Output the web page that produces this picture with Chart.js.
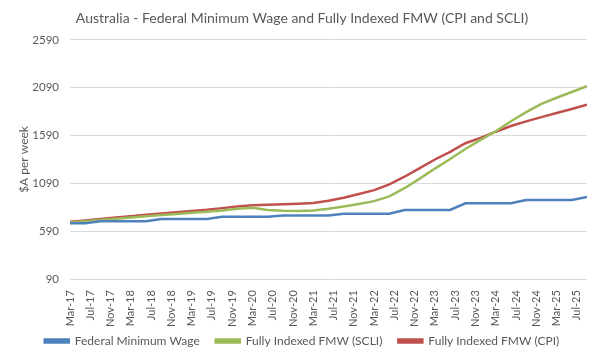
<!DOCTYPE html>
<html>
<head>
<meta charset="utf-8">
<script src="https://cdn.jsdelivr.net/npm/chart.js@4"></script>
<style>
  body { margin: 0; background: #fff; }
  #myChart { display: block; }
</style>
</head>
<body>
<canvas id="myChart" width="600" height="361"></canvas>
<script>
// quarterly observations, Mar-17 .. Sep-25
const quarters = ['Mar-17','Jun-17','Sep-17','Dec-17','Mar-18','Jun-18','Sep-18','Dec-18',
  'Mar-19','Jun-19','Sep-19','Dec-19','Mar-20','Jun-20','Sep-20','Dec-20',
  'Mar-21','Jun-21','Sep-21','Dec-21','Mar-22','Jun-22','Sep-22','Dec-22',
  'Mar-23','Jun-23','Sep-23','Dec-23','Mar-24','Jun-24','Sep-24','Dec-24',
  'Mar-25','Jun-25','Sep-25'];

const fmw = [672.7, 672.7, 694.9, 694.9, 694.9, 694.9, 719.2, 719.2,
  719.2, 719.2, 740.8, 740.8, 740.8, 740.8, 753.8, 753.8,
  753.8, 753.8, 772.6, 772.6, 772.6, 772.6, 812.6, 812.6,
  812.6, 812.6, 882.8, 882.8, 882.8, 882.8, 915.9, 915.9,
  915.9, 915.9, 948.0];

const fmwSCLI = [682, 695, 707, 720, 733, 746, 759, 771,
  783, 795, 808, 825, 835, 812, 805, 803,
  806, 825, 850, 875, 905, 955, 1040, 1140,
  1245, 1345, 1450, 1545, 1635, 1740, 1835, 1920,
  1985, 2045, 2105];

const fmwCPI = [690, 704, 718, 733, 748, 762, 776, 790,
  803, 815, 832, 848, 862, 866, 872, 877,
  885, 910, 940, 980, 1020, 1080, 1160, 1250,
  1340, 1420, 1510, 1565, 1630, 1690, 1738, 1782,
  1825, 1868, 1913];

// axis ticks
const tickLabels = ['Mar-17','Jul-17','Nov-17','Mar-18','Jul-18','Nov-18','Mar-19','Jul-19',
  'Nov-19','Mar-20','Jul-20','Nov-20','Mar-21','Jul-21','Nov-21','Mar-22','Jul-22',
  'Nov-22','Mar-23','Jul-23','Nov-23','Mar-24','Jul-24','Nov-24','Mar-25','Jul-25'];
const yTicks = [90, 590, 1090, 1590, 2090, 2590];

const FONT = 'Lato, "Liberation Sans", sans-serif';
const GREY = '#595959';
const LEGEND_PAD = 16;   // horizontal gap between legend items
const LEGEND_TOP = 5;    // space actually wanted above the legend row

// x is months since Mar-17, one quarter = 3 months
function toPoints(values) {
  return values.map((v, i) => ({ x: i * 3, y: v }));
}

function makeSet(label, values, color) {
  return {
    label: label,
    data: toPoints(values),
    borderColor: color,
    backgroundColor: color,
    borderWidth: 2.5,
    pointRadius: 0,
    tension: 0
  };
}

// legend padding is used both between items and above them;
// keep the wide horizontal gap but drop most of the top space
const tightLegend = {
  id: 'tightLegend',
  beforeLayout(chart) {
    const legend = chart.legend;
    if (!legend || legend._tight) return;
    legend._tight = true;
    const shift = LEGEND_PAD - LEGEND_TOP;
    const fit = legend.fit;
    const draw = legend.draw;
    legend.fit = function () {
      fit.call(this);
      this.height -= shift;
    };
    legend.draw = function () {
      this.top -= shift;
      draw.apply(this, arguments);
      this.top += shift;
    };
  }
};

const ctx = document.getElementById('myChart').getContext('2d');
new Chart(ctx, {
  type: 'line',
  data: {
    datasets: [
      makeSet('Federal Minimum Wage', fmw, '#4F81BD'),
      makeSet('Fully Indexed FMW (SCLI)', fmwSCLI, '#9BBB59'),
      makeSet('Fully Indexed FMW (CPI)', fmwCPI, '#C0504D')
    ]
  },
  plugins: [tightLegend],
  options: {
    responsive: false,
    animation: false,
    layout: { padding: { left: 17, right: 13, top: 0, bottom: 4 } },
    plugins: {
      title: {
        display: true,
        text: 'Australia - Federal Minimum Wage and Fully Indexed FMW (CPI and SCLI)',
        color: GREY,
        font: { family: FONT, size: 14, weight: 'normal' },
        padding: { top: 10, bottom: 13 }
      },
      legend: {
        position: 'bottom',
        labels: {
          color: GREY,
          font: { family: FONT, size: 12 },
          boxWidth: 24,
          boxHeight: 3,
          padding: LEGEND_PAD
        }
      },
      tooltip: { enabled: false }
    },
    scales: {
      x: {
        type: 'linear',
        min: 0,
        max: (quarters.length - 1) * 3,
        afterBuildTicks: (scale) => {
          scale.ticks = tickLabels.map((_, i) => ({ value: i * 4 }));
        },
        ticks: {
          color: GREY,
          font: { family: FONT, size: 11 },
          minRotation: 90,
          maxRotation: 90,
          autoSkip: false,
          padding: 3,
          callback: (v) => tickLabels[Math.round(v / 4)]
        },
        grid: { display: false },
        border: { display: false }
      },
      y: {
        min: 90,
        max: 2590,
        afterBuildTicks: (scale) => {
          scale.ticks = yTicks.map(v => ({ value: v }));
        },
        afterFit: (scale) => { scale.width = 53; },
        ticks: {
          color: GREY,
          font: { family: FONT, size: 11.5 },
          padding: 11,
          callback: (v) => String(v)
        },
        grid: { color: '#d9d9d9', drawTicks: false },
        border: { display: false },
        title: {
          display: true,
          text: '$A per week',
          color: GREY,
          font: { family: FONT, size: 12 },
          padding: { top: 0, bottom: 6 }
        }
      }
    }
  }
});
</script>
</body>
</html>
